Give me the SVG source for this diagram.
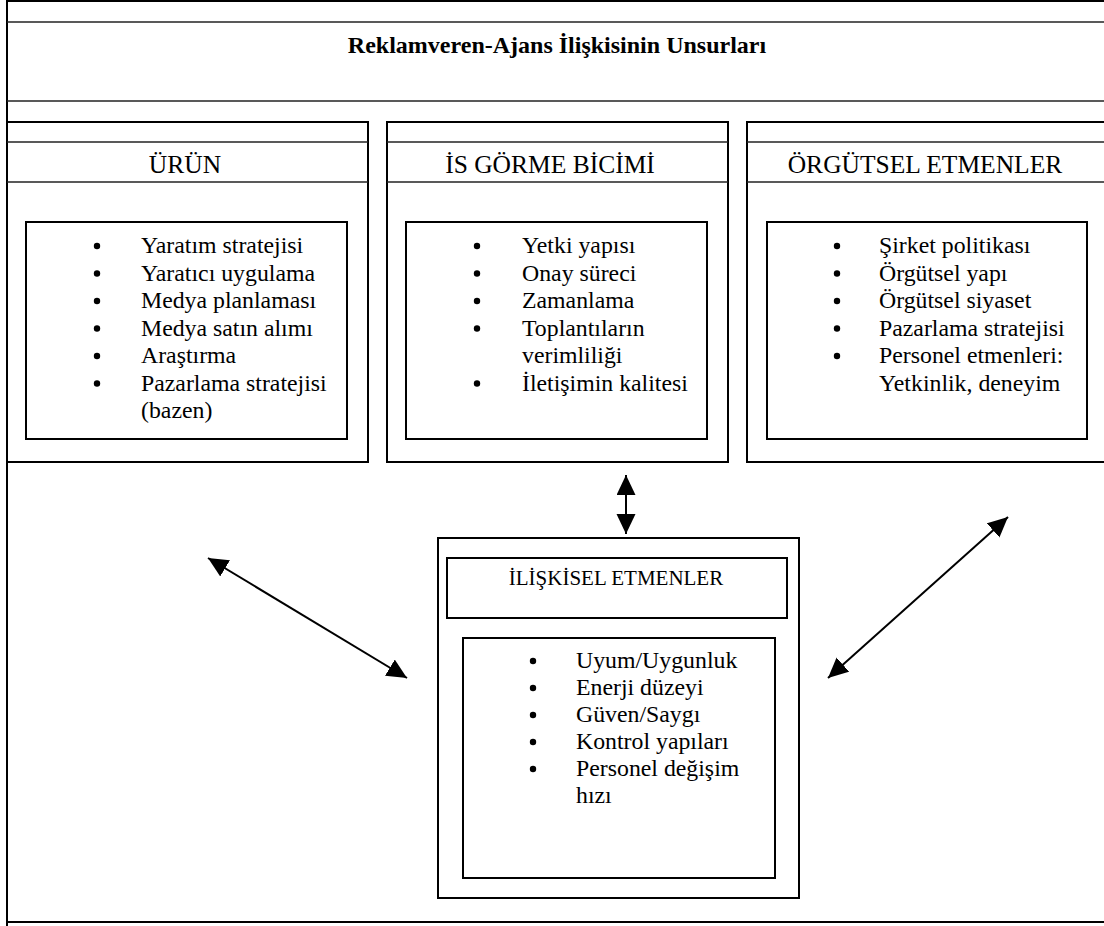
<svg xmlns="http://www.w3.org/2000/svg" width="1104" height="926" viewBox="0 0 1104 926">
<style>
  .ln{stroke:#000;stroke-width:2;fill:none}
  .thin{stroke:#222;stroke-width:1.6;fill:none}
  .box{stroke:#000;stroke-width:2;fill:#fff}
  text{font-family:"Liberation Serif","Times New Roman",Times,serif;fill:#000}
  .item{font-size:23.8px}
  .head{font-size:25.5px;text-anchor:middle}
  .title{font-size:24px;font-weight:bold;text-anchor:middle}
  .dot{fill:#000}
  .conn{stroke:#000;stroke-width:2;fill:none}
</style>
<defs>
  <marker id="ah" markerUnits="userSpaceOnUse" markerWidth="21" markerHeight="20" refX="20" refY="9.5" orient="auto-start-reverse" viewBox="0 0 21 20">
    <path d="M0,0 L20,9.5 L0,19 Z" fill="#000"/>
  </marker>
</defs>
<rect width="1104" height="926" fill="#fff"/>

<g id="frame">
  <line class="ln" x1="7" y1="0" x2="7" y2="926"/>
  <line class="ln" x1="6" y1="1" x2="1104" y2="1"/>
  <line class="thin" x1="7" y1="22" x2="1104" y2="22"/>
  <line class="thin" x1="7" y1="101" x2="1104" y2="101"/>
  <line class="ln" x1="7" y1="922" x2="1104" y2="922"/>
  <text class="title" x="557" y="53">Reklamveren-Ajans İlişkisinin Unsurları</text>
</g>

<g id="urun">
  <rect class="box" x="7" y="122" width="361" height="340"/>
  <line class="thin" x1="7" y1="142" x2="368" y2="142"/>
  <line class="thin" x1="7" y1="182" x2="368" y2="182"/>
  <text class="head" x="185" y="173">ÜRÜN</text>
  <rect class="box" x="26" y="222" width="321" height="217"/>
  <circle class="dot" cx="97" cy="246" r="3.2"/>
  <circle class="dot" cx="97" cy="273.5" r="3.2"/>
  <circle class="dot" cx="97" cy="301" r="3.2"/>
  <circle class="dot" cx="97" cy="328.5" r="3.2"/>
  <circle class="dot" cx="97" cy="356" r="3.2"/>
  <circle class="dot" cx="97" cy="383.5" r="3.2"/>
  <text class="item" x="141" y="253">Yaratım stratejisi</text>
  <text class="item" x="141" y="280.5">Yaratıcı uygulama</text>
  <text class="item" x="141" y="308">Medya planlaması</text>
  <text class="item" x="141" y="335.5">Medya satın alımı</text>
  <text class="item" x="141" y="363">Araştırma</text>
  <text class="item" x="141" y="390.5">Pazarlama stratejisi</text>
  <text class="item" x="141" y="418">(bazen)</text>
</g>

<g id="is-gorme">
  <rect class="box" x="387" y="122" width="341" height="340"/>
  <line class="thin" x1="387" y1="142" x2="728" y2="142"/>
  <line class="thin" x1="387" y1="182" x2="728" y2="182"/>
  <text class="head" x="550" y="173">İS GÖRME BİCİMİ</text>
  <rect class="box" x="406" y="222" width="301" height="217"/>
  <circle class="dot" cx="477" cy="246" r="3.2"/>
  <circle class="dot" cx="477" cy="273.5" r="3.2"/>
  <circle class="dot" cx="477" cy="301" r="3.2"/>
  <circle class="dot" cx="477" cy="328.5" r="3.2"/>
  <circle class="dot" cx="477" cy="383.5" r="3.2"/>
  <text class="item" x="522" y="253">Yetki yapısı</text>
  <text class="item" x="522" y="280.5">Onay süreci</text>
  <text class="item" x="522" y="308">Zamanlama</text>
  <text class="item" x="522" y="335.5">Toplantıların</text>
  <text class="item" x="522" y="363">verimliliği</text>
  <text class="item" x="522" y="390.5">İletişimin kalitesi</text>
</g>

<g id="orgutsel">
  <rect class="box" x="747" y="122" width="370" height="340"/>
  <line class="thin" x1="747" y1="142" x2="1104" y2="142"/>
  <line class="thin" x1="747" y1="182" x2="1104" y2="182"/>
  <text class="head" x="925" y="173">ÖRGÜTSEL ETMENLER</text>
  <rect class="box" x="767" y="222" width="320" height="217"/>
  <circle class="dot" cx="837" cy="246" r="3.2"/>
  <circle class="dot" cx="837" cy="273.5" r="3.2"/>
  <circle class="dot" cx="837" cy="301" r="3.2"/>
  <circle class="dot" cx="837" cy="328.5" r="3.2"/>
  <circle class="dot" cx="837" cy="356" r="3.2"/>
  <text class="item" x="879" y="253">Şirket politikası</text>
  <text class="item" x="879" y="280.5">Örgütsel yapı</text>
  <text class="item" x="879" y="308">Örgütsel siyaset</text>
  <text class="item" x="879" y="335.5">Pazarlama stratejisi</text>
  <text class="item" x="879" y="363">Personel etmenleri:</text>
  <text class="item" x="879" y="390.5">Yetkinlik, deneyim</text>
</g>

<g id="iliskisel">
  <rect class="box" x="438" y="538" width="361" height="360"/>
  <rect class="box" x="447" y="558" width="340" height="60"/>
  <text class="head" x="616" y="585" style="font-size:21px">İLİŞKİSEL ETMENLER</text>
  <rect class="box" x="463" y="638" width="312" height="240"/>
  <circle class="dot" cx="533" cy="661" r="3.2"/>
  <circle class="dot" cx="533" cy="688" r="3.2"/>
  <circle class="dot" cx="533" cy="715" r="3.2"/>
  <circle class="dot" cx="533" cy="742" r="3.2"/>
  <circle class="dot" cx="533" cy="769" r="3.2"/>
  <text class="item" x="576" y="668">Uyum/Uygunluk</text>
  <text class="item" x="576" y="695">Enerji düzeyi</text>
  <text class="item" x="576" y="722">Güven/Saygı</text>
  <text class="item" x="576" y="749">Kontrol yapıları</text>
  <text class="item" x="576" y="776">Personel değişim</text>
  <text class="item" x="576" y="803">hızı</text>
</g>

<g id="connectors">
  <line class="conn" x1="626" y1="475" x2="626" y2="534" marker-start="url(#ah)" marker-end="url(#ah)"/>
  <line class="conn" x1="208" y1="558" x2="407" y2="678" marker-start="url(#ah)" marker-end="url(#ah)"/>
  <line class="conn" x1="828" y1="678" x2="1008" y2="517" marker-start="url(#ah)" marker-end="url(#ah)"/>
</g>
</svg>
